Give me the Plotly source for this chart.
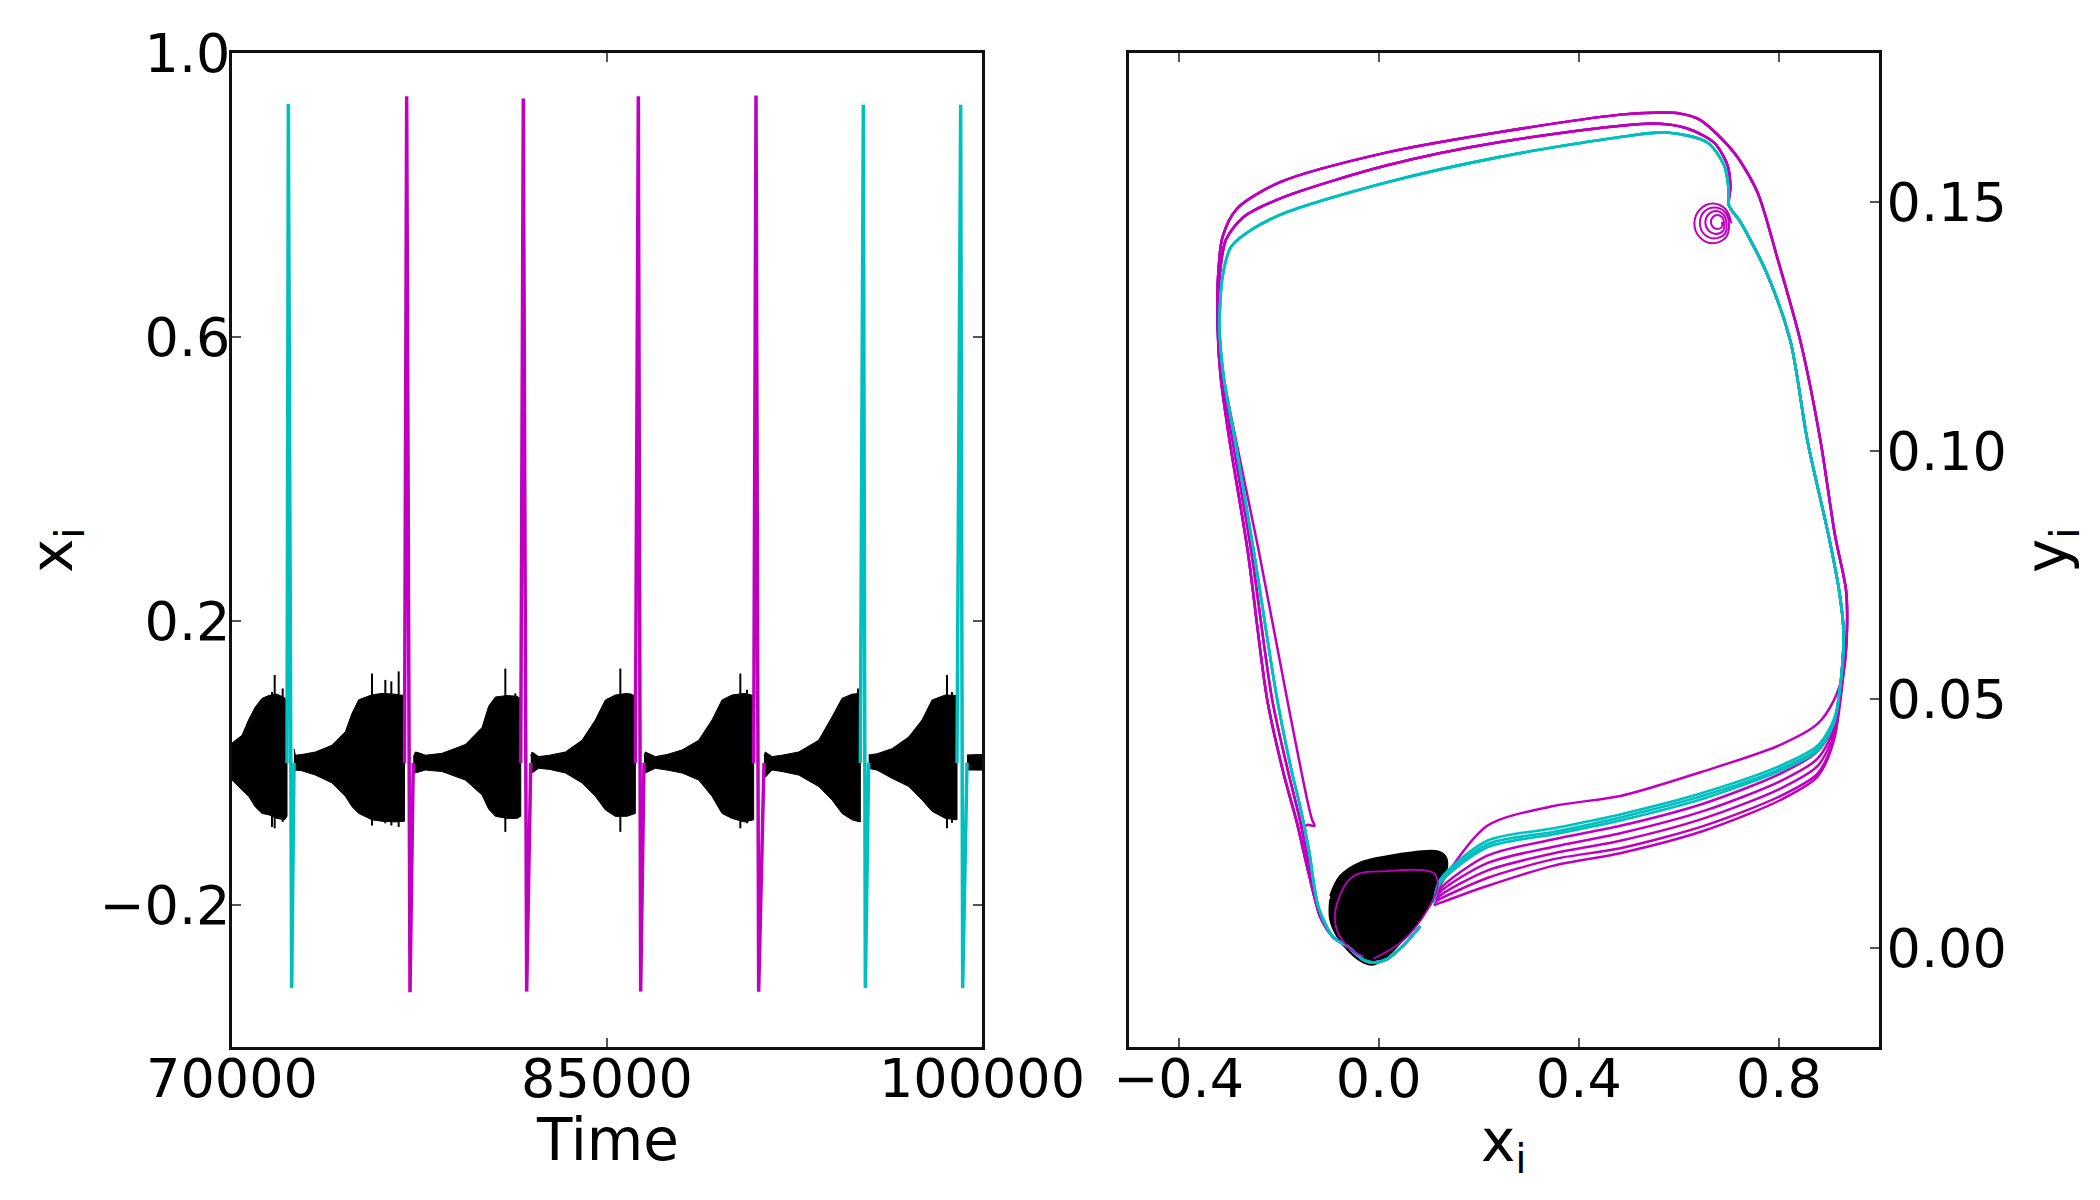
import plotly.graph_objects as go

# ---------------- Left panel: time series x_i(t) ----------------
TIME_TICKS = [70000, 85000, 100000]
XI_TICKS = [1.0, 0.6, 0.2, -0.2]
XI_TICK_TEXT = ["1.0", "0.6", "0.2", "\u22120.2"]

# envelope of the small-amplitude (black) oscillation bursts between spikes
BURST_T = [
    [70000, 70400, 70667, 70933, 71200, 71467, 71800, 72100, 72200],
    [72480, 72533, 72800, 73333, 74000, 74533, 74800, 75067, 75600, 76000, 76500, 76900],
    [77250, 77333, 77500, 77733, 78400, 79333, 80000, 80267, 80533, 81000, 81400, 81550],
    [81950, 82000, 82267, 82700, 83333, 84000, 84533, 84933, 85333, 85800, 86133],
    [86480, 86533, 86933, 87400, 88000, 88667, 89200, 89600, 90000, 90500, 90867],
    [91280, 91333, 91600, 92000, 92667, 93467, 94000, 94400, 94800, 95133],
    [95467, 95800, 96400, 97067, 97600, 98000, 98533, 99000],
    [99400, 99700, 100000],
]
BURST_HI = [
    [0.028, 0.039, 0.061, 0.079, 0.091, 0.095, 0.097, 0.092, 0.085],
    [0.020, 0.011, 0.012, 0.0155, 0.025, 0.044, 0.070, 0.089, 0.096, 0.098, 0.097, 0.095],
    [0.008, 0.0155, 0.014, 0.011, 0.0136, 0.026, 0.050, 0.080, 0.093, 0.095, 0.094, 0.090],
    [0.010, 0.0155, 0.009, 0.011, 0.0155, 0.032, 0.0606, 0.0887, 0.0958, 0.098, 0.095],
    [0.010, 0.0155, 0.009, 0.012, 0.0183, 0.032, 0.0606, 0.0887, 0.0958, 0.098, 0.095],
    [0.010, 0.0155, 0.009, 0.011, 0.0155, 0.032, 0.065, 0.091, 0.097, 0.098],
    [0.0113, 0.013, 0.0202, 0.0366, 0.0606, 0.0887, 0.0958, 0.095],
    [0.0113, 0.0113, 0.012],
]
BURST_LO = [
    [-0.024, -0.038, -0.047, -0.062, -0.071, -0.073, -0.078, -0.080, -0.075],
    [-0.015, -0.010, -0.011, -0.017, -0.028, -0.047, -0.0615, -0.071, -0.080, -0.082, -0.083, -0.082],
    [-0.010, -0.014, -0.012, -0.0099, -0.012, -0.024, -0.045, -0.065, -0.075, -0.078, -0.078, -0.075],
    [-0.005, -0.014, -0.0075, -0.009, -0.014, -0.028, -0.047, -0.066, -0.0752, -0.075, -0.071],
    [-0.005, -0.014, -0.0075, -0.010, -0.014, -0.024, -0.047, -0.071, -0.078, -0.083, -0.080],
    [-0.008, -0.020, -0.0099, -0.012, -0.017, -0.033, -0.052, -0.071, -0.080, -0.083],
    [-0.0075, -0.010, -0.0216, -0.033, -0.052, -0.068, -0.078, -0.080],
    [-0.0099, -0.0099, -0.010],
]
# isolated taller excursions inside the bursts
ROD_T = [71600, 71707, 72027, 75600, 76133, 76373, 76667, 80933, 81333,
         85533, 85933, 90333, 90600, 95040, 98600, 98800]
ROD_HI = [0.100, 0.124, 0.105, 0.126, 0.117, 0.115, 0.129, 0.133, 0.098,
          0.133, 0.098, 0.126, 0.103, 0.105, 0.124, 0.100]
ROD_LO = [-0.090, -0.092, -0.083, -0.088, -0.085, -0.088, -0.090, -0.097, -0.076,
          -0.097, -0.072, -0.092, -0.085, -0.083, -0.092, -0.084]

# large spikes
SPIKE_T_START = [72200, 76900, 81550, 86133, 90867, 95133, 99000]
SPIKE_T_UP = [72253, 76987, 81653, 86253, 90960, 95253, 99147]
SPIKE_T_LOW = [72387, 77120, 81787, 86347, 91067, 95333, 99227]
SPIKE_T_END = [72480, 77250, 81950, 86480, 91280, 95467, 99400]
SPIKE_TOP = [0.928, 0.939, 0.936, 0.939, 0.940, 0.927, 0.927]
SPIKE_BOTTOM = [-0.317, -0.323, -0.322, -0.322, -0.322, -0.317, -0.317]
SPIKE_GROUP = ["c", "m", "m", "m", "m", "c", "c"]

# ---------------- Right panel: phase plane (x_i, y_i) ----------------
PX_TICKS = [-0.4, 0.0, 0.4, 0.8]
PY_TICKS = [0.00, 0.05, 0.10, 0.15]

BLOB_X = [-0.097, -0.077, -0.037, 0.017, 0.070, 0.117, 0.133, 0.137, 0.127, 0.110,
          0.083, 0.050, 0.017, -0.010, -0.030, -0.057, -0.083, -0.097, -0.097]
BLOB_Y = [0.0104, 0.0144, 0.0171, 0.0184, 0.0192, 0.0194, 0.0184, 0.0164, 0.0137, 0.0097,
          0.0057, 0.0017, -0.0017, -0.0034, -0.0030, -0.0010, 0.0023, 0.0057, 0.0097]
BLOB_INNER_X = [-0.010, 0.050, 0.100, 0.118, 0.110, 0.017, -0.050, -0.083, -0.085, -0.060, -0.030]
BLOB_INNER_Y = [-0.0022, 0.0015, 0.0080, 0.0125, 0.0150, 0.0154, 0.0144, 0.0090, 0.0040, 0.0000, -0.0018]

BOTTOM_X = [0.110, 0.123, 0.217, 0.350, 0.483, 0.650, 0.803, 0.877, 0.910]
BOTTOM_C1 = [0.0090, 0.0137, 0.0215, 0.0240, 0.0268, 0.0312, 0.0366, 0.0406, 0.0460]
BOTTOM_C2 = [0.0090, 0.0133, 0.0208, 0.0233, 0.0262, 0.0306, 0.0360, 0.0400, 0.0455]
BOTTOM_C3 = [0.0090, 0.0130, 0.0202, 0.0228, 0.0256, 0.0300, 0.0356, 0.0396, 0.0452]
BOTTOM_M1 = [0.0090, 0.0125, 0.0245, 0.0285, 0.0305, 0.0355, 0.0408, 0.0450, 0.0498]
BOTTOM_M2 = [0.0090, 0.0118, 0.0185, 0.0218, 0.0245, 0.0290, 0.0350, 0.0395, 0.0450]
BOTTOM_M3 = [0.0090, 0.0112, 0.0170, 0.0203, 0.0230, 0.0275, 0.0335, 0.0380, 0.0440]
BOTTOM_M4 = [0.0090, 0.0105, 0.0155, 0.0190, 0.0215, 0.0260, 0.0320, 0.0365, 0.0430]
BOTTOM_M5 = [0.0090, 0.0098, 0.0140, 0.0178, 0.0200, 0.0245, 0.0305, 0.0350, 0.0420]
BOTTOM_M6 = [0.0085, 0.0090, 0.0124, 0.0165, 0.0190, 0.0235, 0.0297, 0.0344, 0.0418]

OUTER_RT_X = [0.930, 0.936, 0.934, 0.912, 0.883, 0.843, 0.797, 0.757, 0.710, 0.643,
              0.603, 0.550, 0.483, 0.243, 0.017, -0.197, -0.283, -0.312, -0.321]
OUTER_RT_Y = [0.056, 0.064, 0.072, 0.083, 0.102, 0.122, 0.1387, 0.152, 0.160, 0.1665,
              0.1678, 0.1680, 0.1676, 0.1641, 0.1600, 0.1540, 0.1487, 0.1430, 0.1350]
MIDDLE_RT_X = [0.926, 0.929, 0.920, 0.899, 0.857, 0.823, 0.777, 0.723, 0.700, 0.703,
               0.697, 0.670, 0.617, 0.550, 0.243, 0.017, -0.190, -0.270, -0.305, -0.318]
MIDDLE_RT_Y = [0.056, 0.064, 0.072, 0.083, 0.102, 0.122, 0.1354, 0.146, 0.1494, 0.153,
               0.1575, 0.162, 0.1648, 0.1658, 0.1621, 0.1574, 0.1510, 0.1470, 0.1425, 0.1350]
CYAN_RT_X = [0.926, 0.929, 0.920, 0.899, 0.857, 0.823, 0.777, 0.723, 0.700, 0.699,
             0.690, 0.657, 0.577, 0.483, 0.243, 0.017, -0.183, -0.250, -0.295, -0.312]
CYAN_RT_Y = [0.056, 0.064, 0.072, 0.083, 0.102, 0.122, 0.1354, 0.146, 0.1494, 0.153,
             0.1575, 0.1620, 0.1640, 0.1631, 0.1591, 0.1540, 0.1480, 0.1447, 0.1410, 0.1350]

OUTER_LEFT_X = [-0.322, -0.316, -0.298, -0.262, -0.223, -0.190, -0.163, -0.140, -0.117,
                -0.090, -0.063, -0.030, -0.010, 0.017, 0.050, 0.083]
OUTER_LEFT_Y = [0.125, 0.115, 0.102, 0.080, 0.050, 0.035, 0.025, 0.015, 0.0063,
                0.0020, 0.0003, -0.0025, -0.0030, -0.0023, 0.0005, 0.0043]
MIDDLE_LEFT_X = [-0.320, -0.312, -0.292, -0.255, -0.213, -0.180, -0.158, -0.138, -0.117,
                 -0.090, -0.063, -0.030, -0.010, 0.017, 0.050, 0.083]
MIDDLE_LEFT_Y = [0.125, 0.115, 0.102, 0.080, 0.050, 0.035, 0.026, 0.016, 0.0063,
                 0.0020, 0.0003, -0.0025, -0.0030, -0.0023, 0.0005, 0.0043]
CYAN_LEFT_X = [-0.318, -0.310, -0.287, -0.250, -0.203, -0.175, -0.157, -0.140, -0.120,
               -0.090, -0.063, -0.030, -0.010, 0.017, 0.050, 0.083]
CYAN_LEFT_Y = [0.125, 0.115, 0.102, 0.080, 0.050, 0.036, 0.0284, 0.020, 0.008,
               0.0020, 0.0003, -0.0025, -0.0030, -0.0023, 0.0005, 0.0043]
HOOK_LEFT_X = [-0.320, -0.310, -0.285, -0.240, -0.183, -0.143, -0.133, -0.128, -0.143, -0.150]
HOOK_LEFT_Y = [0.125, 0.115, 0.102, 0.080, 0.050, 0.0298, 0.0257, 0.0245, 0.0247, 0.0240]

SPIRAL_X = [0.705, 0.694, 0.668, 0.642, 0.631, 0.642, 0.668, 0.694,
            0.700, 0.692, 0.671, 0.650, 0.642, 0.650, 0.671, 0.692,
            0.695, 0.689, 0.674, 0.659, 0.653, 0.659, 0.674, 0.689,
            0.690, 0.686, 0.677, 0.668, 0.664, 0.668, 0.677, 0.686, 0.686]
SPIRAL_Y = [0.1457, 0.1485, 0.1497, 0.1485, 0.1457, 0.1429, 0.1417, 0.1429,
            0.1458, 0.1480, 0.1489, 0.1480, 0.1458, 0.1436, 0.1427, 0.1436,
            0.1459, 0.1475, 0.1482, 0.1475, 0.1459, 0.1443, 0.1436, 0.1443,
            0.1460, 0.1470, 0.1474, 0.1470, 0.1460, 0.1450, 0.1446, 0.1450, 0.1460]

CYAN = "#00BFBF"
MAGENTA = "#BF00BF"
FONT = "DejaVu Sans"

fig = go.Figure()

# ---- left panel ----
for t, hi, lo in zip(BURST_T, BURST_HI, BURST_LO):
    fig.add_trace(go.Scatter(x=t + t[::-1], y=hi + lo[::-1], fill="toself",
                             fillcolor="black", mode="lines",
                             line=dict(color="black", width=1),
                             xaxis="x", yaxis="y", hoverinfo="skip", showlegend=False))
rx, ry = [], []
for t, hi, lo in zip(ROD_T, ROD_HI, ROD_LO):
    rx += [t, t, None]
    ry += [lo, hi, None]
fig.add_trace(go.Scatter(x=rx, y=ry, mode="lines", line=dict(color="black", width=2),
                         xaxis="x", yaxis="y", hoverinfo="skip", showlegend=False))
for i in range(len(SPIKE_T_UP)):
    col = CYAN if SPIKE_GROUP[i] == "c" else MAGENTA
    fig.add_trace(go.Scatter(
        x=[SPIKE_T_START[i], SPIKE_T_UP[i], SPIKE_T_LOW[i], SPIKE_T_END[i]],
        y=[0.0, SPIKE_TOP[i], SPIKE_BOTTOM[i], 0.0],
        mode="lines", line=dict(color=col, width=3.5),
        xaxis="x", yaxis="y", hoverinfo="skip", showlegend=False))

# ---- right panel ----
fig.add_trace(go.Scatter(x=BLOB_X, y=BLOB_Y, fill="toself", fillcolor="black", mode="lines",
                         line=dict(color="black", width=2, shape="spline"),
                         xaxis="x2", yaxis="y2", hoverinfo="skip", showlegend=False))


def add_loop(bottom, rt_x, rt_y, left_x, left_y, color, width):
    xs = BOTTOM_X + rt_x + left_x
    ys = bottom + rt_y + left_y
    fig.add_trace(go.Scatter(x=xs, y=ys, mode="lines",
                             line=dict(color=color, width=width, shape="spline", smoothing=0.8),
                             xaxis="x2", yaxis="y2", hoverinfo="skip", showlegend=False))


add_loop(BOTTOM_M1, OUTER_RT_X, OUTER_RT_Y, OUTER_LEFT_X, OUTER_LEFT_Y, MAGENTA, 2.5)
add_loop(BOTTOM_M2, OUTER_RT_X, OUTER_RT_Y, OUTER_LEFT_X, OUTER_LEFT_Y, MAGENTA, 2.5)
add_loop(BOTTOM_M5, OUTER_RT_X, OUTER_RT_Y, OUTER_LEFT_X, OUTER_LEFT_Y, MAGENTA, 2.5)
add_loop(BOTTOM_M4, MIDDLE_RT_X, MIDDLE_RT_Y, MIDDLE_LEFT_X, MIDDLE_LEFT_Y, MAGENTA, 2.5)
add_loop(BOTTOM_M6, MIDDLE_RT_X, MIDDLE_RT_Y, MIDDLE_LEFT_X, MIDDLE_LEFT_Y, MAGENTA, 2.5)
add_loop(BOTTOM_M3, MIDDLE_RT_X, MIDDLE_RT_Y, HOOK_LEFT_X, HOOK_LEFT_Y, MAGENTA, 2.5)
add_loop(BOTTOM_C1, CYAN_RT_X, CYAN_RT_Y, CYAN_LEFT_X, CYAN_LEFT_Y, CYAN, 2.6)
add_loop(BOTTOM_C2, CYAN_RT_X, CYAN_RT_Y, CYAN_LEFT_X, CYAN_LEFT_Y, CYAN, 2.6)
add_loop(BOTTOM_C3, CYAN_RT_X, CYAN_RT_Y, CYAN_LEFT_X, CYAN_LEFT_Y, CYAN, 2.6)

fig.add_trace(go.Scatter(x=BLOB_INNER_X, y=BLOB_INNER_Y, mode="lines",
                         line=dict(color=MAGENTA, width=1.8, shape="spline"),
                         xaxis="x2", yaxis="y2", hoverinfo="skip", showlegend=False))
fig.add_trace(go.Scatter(x=SPIRAL_X, y=SPIRAL_Y, mode="lines",
                         line=dict(color=MAGENTA, width=2, shape="spline"),
                         xaxis="x2", yaxis="y2", hoverinfo="skip", showlegend=False))

W, H = 2100, 1200
L1, R1 = 232 / W, 982 / W
L2, R2 = 1128.5 / W, 1879 / W
B, T = 1 - 1047 / H, 1 - 53 / H

axis_common = dict(showline=True, linecolor="#111", linewidth=2.5, showgrid=False,
                   zeroline=False, ticks="inside", ticklen=9, tickwidth=1.5,
                   automargin=False,
                   tickcolor="#555", tickfont=dict(family=FONT, size=54, color="black"))

fig.update_layout(
    width=W, height=H, margin=dict(l=0, r=0, t=0, b=0, autoexpand=False),
    paper_bgcolor="white", plot_bgcolor="white", showlegend=False,
    xaxis=dict(domain=[L1, R1], range=[70000, 100000], tickvals=TIME_TICKS,
               ticktext=[str(v) for v in TIME_TICKS], mirror="ticks", anchor="y",
               ticklabelstandoff=-18, **axis_common),
    yaxis=dict(domain=[B, T], range=[-0.4, 1.0], tickvals=XI_TICKS, ticktext=XI_TICK_TEXT,
               mirror="ticks", anchor="x", ticklabelstandoff=-12, **axis_common),
    xaxis2=dict(domain=[L2, R2], range=[-0.5, 1.0], tickvals=PX_TICKS,
                ticktext=["\u22120.4", "0.0", "0.4", "0.8"], mirror="ticks", anchor="y2",
                ticklabelstandoff=-18, **axis_common),
    yaxis2=dict(domain=[B, T], range=[-0.02, 0.18], tickvals=PY_TICKS,
                ticktext=["0.00", "0.05", "0.10", "0.15"], side="right", mirror=True,
                anchor="x2", ticklabelstandoff=-6, **axis_common),
    annotations=[
        dict(text="Time", x=607 / W, y=1 - 1140 / H, xref="paper", yref="paper",
             showarrow=False, font=dict(family=FONT, size=58, color="black"),
             xanchor="center", yanchor="middle"),
        dict(text="x<sub>i</sub>", x=1504 / W, y=1 - 1145 / H, xref="paper", yref="paper",
             showarrow=False, font=dict(family=FONT, size=58, color="black"),
             xanchor="center", yanchor="middle"),
        dict(text="x<sub>i</sub>", x=56 / W, y=1 - 550 / H, xref="paper", yref="paper",
             showarrow=False, textangle=-90, font=dict(family=FONT, size=58, color="black"),
             xanchor="center", yanchor="middle"),
        dict(text="y<sub>i</sub>", x=2051 / W, y=1 - 550 / H, xref="paper", yref="paper",
             showarrow=False, textangle=-90, font=dict(family=FONT, size=58, color="black"),
             xanchor="center", yanchor="middle"),
    ],
)

fig.write_html("out.html")
